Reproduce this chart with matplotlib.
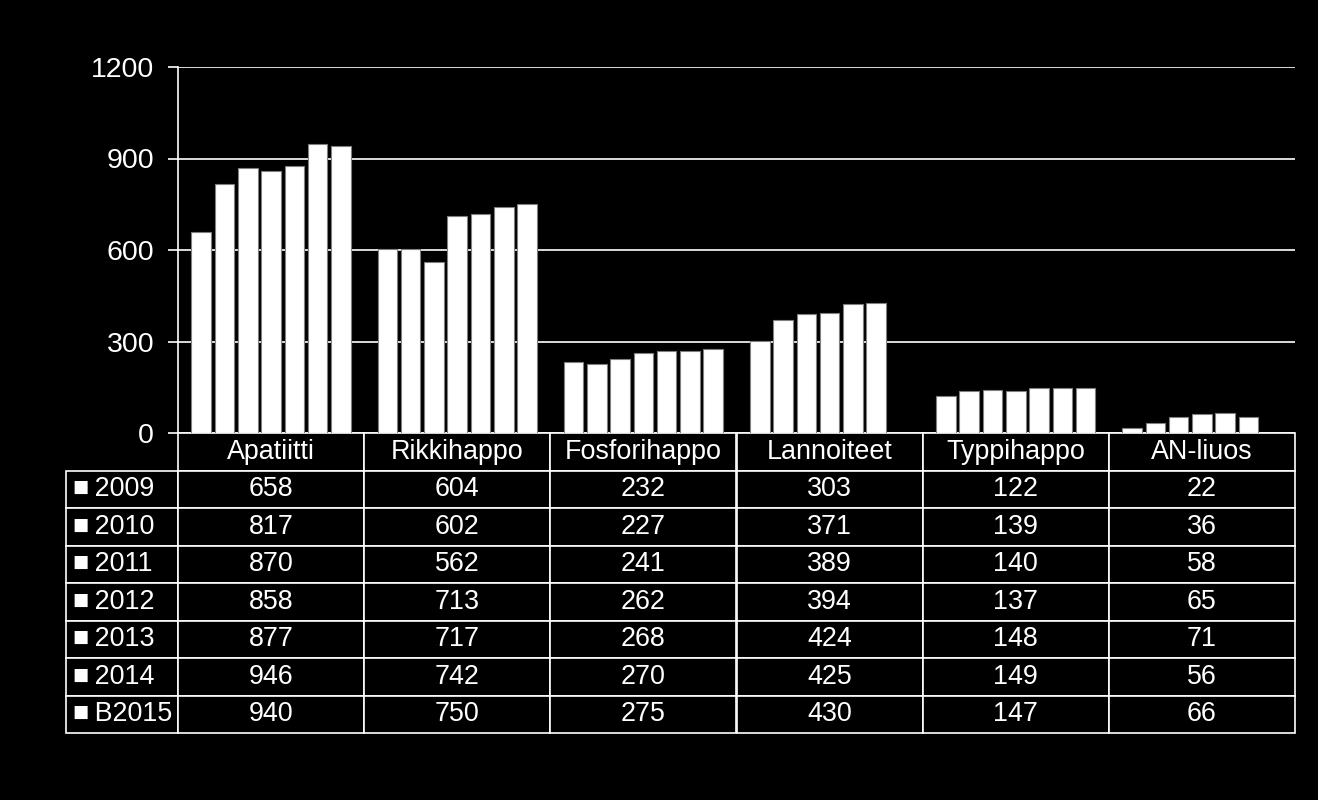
import matplotlib
matplotlib.use("Agg")
import matplotlib.pyplot as plt
import numpy as np

categories = ["Apatiitti", "Rikkihappo", "Fosforihappo", "Lannoiteet", "Typpihappo", "AN-liuos"]
years = ["2009", "2010", "2011", "2012", "2013", "2014", "B2015"]

# values printed in the table
table_values = {
    "2009": [658, 604, 232, 303, 122, 22],
    "2010": [817, 602, 227, 371, 139, 36],
    "2011": [870, 562, 241, 389, 140, 58],
    "2012": [858, 713, 262, 394, 137, 65],
    "2013": [877, 717, 268, 424, 148, 71],
    "2014": [946, 742, 270, 425, 149, 56],
    "B2015": [940, 750, 275, 430, 147, 66],
}
# bar heights as drawn (AN-liuos bars are lower than the table, no B2015 bar
# for Lannoiteet and AN-liuos)
bar_values = {
    "2009": [658, 604, 232, 303, 122, 15],
    "2010": [817, 602, 227, 371, 139, 32],
    "2011": [870, 562, 241, 389, 140, 51],
    "2012": [858, 713, 262, 394, 137, 62],
    "2013": [877, 717, 268, 424, 148, 64],
    "2014": [946, 742, 270, 425, 149, 51],
    "B2015": [940, 750, 275, np.nan, 147, np.nan],
}
yticks = [0, 300, 600, 900, 1200]

plt.rcParams['font.family'] = ['Liberation Sans', 'DejaVu Sans']

W, H = 1318, 800
fig = plt.figure(figsize=(W / 100, H / 100), dpi=100, facecolor="black")
# plot area in pixels: x 178..1295, y 67..433
ax = fig.add_axes([178 / W, 1 - 433 / H, (1295 - 178) / W, (433 - 67) / H])
ax.set_facecolor("black")

x = np.arange(len(categories))
pitch = 1 / 8
for i, y in enumerate(years):
    off = (i - (len(years) - 1) / 2) * pitch
    ax.bar(x + off, bar_values[y], width=0.105, color="white",
           edgecolor="#808080", linewidth=0.8, zorder=3)

ax.set_xlim(-0.5, len(categories) - 0.5)
ax.set_ylim(0, 1200)
ax.set_yticks(yticks)
ax.set_xticks([])
ax.tick_params(axis="y", colors="white", labelsize=20.5, length=7.2, width=1.2, pad=10)
ax.grid(axis="y", color="white", linewidth=1.2, zorder=0)
for s in ["top", "right", "bottom"]:
    ax.spines[s].set_visible(False)
ax.spines["left"].set_color("white")
ax.spines["left"].set_linewidth(1.2)

# data table below the plot
cell_text = []
for y in years:
    cell_text.append(["\u25a0\u2009" + y] + [str(v) for v in table_values[y]])
col_labels = [""] + categories
rowlab_w = 112
col_w = (1295 - 178) / len(categories)
aw = 1295 - 178
ah = 433 - 67
tbl = ax.table(cellText=cell_text, colLabels=col_labels,
               colWidths=[rowlab_w] + [col_w] * len(categories),
               cellLoc="center",
               bbox=[(66 - 178) / aw, (433 - 733) / ah, (1295 - 66) / aw, 300 / ah])
tbl.auto_set_font_size(False)
for (r, c), cell in tbl.get_celld().items():
    cell.set_facecolor("black")
    cell.set_edgecolor("white")
    cell.set_linewidth(1.2)
    cell.get_text().set_color("white")
    cell.get_text().set_fontsize(19.4)
    if c == 0:
        cell.get_text().set_horizontalalignment("left")
        cell.PAD = 0.06
    if r == 0 and c == 0:
        cell.visible_edges = "open"

fig.savefig("out.png", dpi=100, facecolor="black")
